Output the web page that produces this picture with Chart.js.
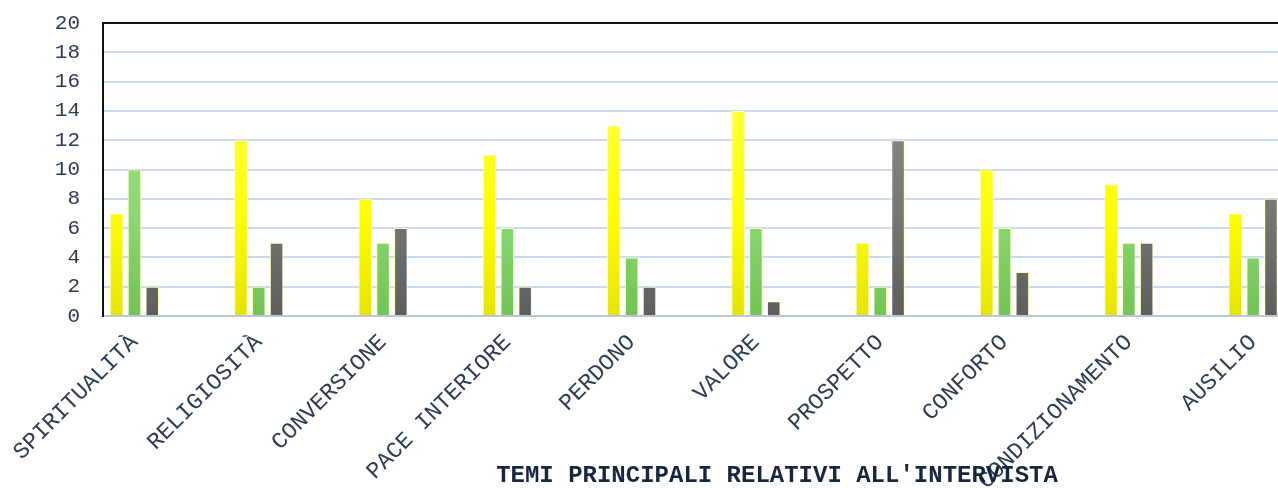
<!DOCTYPE html>
<html><head><meta charset="utf-8">
<script src="https://cdn.jsdelivr.net/npm/chart.js@4"></script>
<style>html,body{margin:0;padding:0;background:#fff;overflow:hidden}#wrap{width:1278px;height:488px}</style>
</head><body><div id="wrap"><canvas id="c" width="1278" height="488"></canvas></div>
<script>
const categories = ["SPIRITUALITÀ","RELIGIOSITÀ","CONVERSIONE","PACE INTERIORE","PERDONO","VALORE","PROSPETTO","CONFORTO","CONDIZIONAMENTO","AUSILIO"];
const serie1 = [7,12,8,11,13,14,5,10,9,7];
const serie2 = [10,2,5,6,4,6,2,6,5,4];
const serie3 = [2,5,6,2,2,1,12,3,5,8];
const yTicks = [0,2,4,6,8,10,12,14,16,18,20];
const chartTitle = "TEMI PRINCIPALI RELATIVI ALL'INTERVISTA";

const FONT = "'Courier New','Liberation Mono',monospace";

function grad(stops){
  return (ctx)=>{
    const ch = ctx.chart; const a = ch.chartArea;
    if(!a) return stops[1];
    const g = ch.ctx.createLinearGradient(0, a.bottom, 0, a.top + (a.bottom-a.top)*0.3);
    g.addColorStop(0, stops[0]); g.addColorStop(0.5, stops[1]); g.addColorStop(1, stops[2]);
    return g;
  };
}
const toXY = arr => arr.map((v,i)=>({x:i, y:v}));

const titlePlugin = {
  id:'bottomTitle',
  afterDraw(chart){
    const c = chart.ctx; c.save();
    c.font = "bold 24px " + FONT;
    c.fillStyle = '#16283d'; c.textAlign='center'; c.textBaseline='middle';
    c.fillText(chartTitle, 777, 476);
    c.restore();
  }
};

new Chart(document.getElementById('c'), {
  type:'bar',
  data:{
    datasets:[
      {label:'Serie 1', data:toXY(serie1), backgroundColor:grad(['#e6e400','#ffff00','#ffff3a']), borderColor:'#ffffb0', borderWidth:1},
      {label:'Serie 2', data:toXY(serie2), backgroundColor:grad(['#72c454','#8ad872','#9cdf86']), borderColor:'#ffffb0', borderWidth:1},
      {label:'Serie 3', data:toXY(serie3), backgroundColor:grad(['#5e5e5e','#767676','#888888']), borderColor:'#ffffb0', borderWidth:1}
    ]
  },
  options:{
    responsive:false, animation:false,
    layout:{padding:{top:23,left:0,right:0,bottom:0}},
    datasets:{bar:{categoryPercentage:0.43, barPercentage:0.76}},
    plugins:{legend:{display:false}, tooltip:{enabled:false}, title:{display:false}},
    scales:{
      x:{
        type:'linear', min:-0.253, max:9.2, offset:false,
        afterBuildTicks:(s)=>{ s.ticks = categories.map((c,i)=>({value:i})); },
        afterFit:(s)=>{ s.height = 172; s.paddingLeft = 0; s.paddingRight = 0; },
        grid:{display:false, drawTicks:false},
        border:{display:true, color:'#b8c8dc', width:2},
        ticks:{autoSkip:false, minRotation:45, maxRotation:45, padding:13,
          callback:(v)=>categories[v] ?? '', color:'#2b3d52', font:{family:FONT, size:23}}
      },
      y:{
        min:0, max:20,
        afterBuildTicks:(s)=>{ s.ticks = yTicks.map(v=>({value:v})); },
        afterFit:(s)=>{ s.width = 103; s.paddingTop = 0; s.paddingBottom = 0; },
        grid:{drawTicks:false, color:(c)=> c.tick && c.tick.value===20 ? '#111111' : (c.tick && c.tick.value===0 ? '#b8c8dc' : '#c8dbf1'), lineWidth:2},
        border:{display:true, color:'#111111', width:2},
        ticks:{autoSkip:false, padding:23, color:'#2b3d52', font:{family:FONT, size:21}}
      }
    }
  },
  plugins:[titlePlugin]
});
</script></body></html>
